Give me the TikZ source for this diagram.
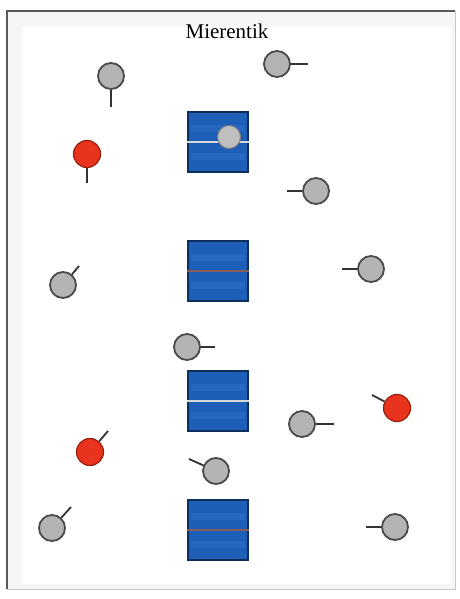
\documentclass[tikz,border=0pt]{standalone}
\usepackage{fontspec}
\setmainfont{Liberation Serif}
\definecolor{frameDark}{HTML}{5A5A5A}
\definecolor{frameLight}{HTML}{C8C8C8}
\definecolor{bandBg}{HTML}{F6F6F6}
\definecolor{ballGray}{HTML}{B4B4B4}
\definecolor{ballEdge}{HTML}{4A4A4A}
\definecolor{ballRed}{HTML}{E8341C}
\definecolor{redEdge}{HTML}{9A1E10}
\definecolor{boxBlue}{HTML}{1D5EB6}
\definecolor{boxBand}{HTML}{2668C0}
\definecolor{boxEdge}{HTML}{0E2E5E}
\definecolor{lineLight}{HTML}{D8D8D8}
\definecolor{lineBrown}{HTML}{8A5E5A}
\definecolor{stickCol}{HTML}{333333}
\tikzset{
  grayball/.style={circle,draw=ballEdge,line width=1.8pt,fill=ballGray,minimum size=26pt,inner sep=0pt},
  redball/.style={circle,draw=redEdge,line width=1.2pt,fill=ballRed,minimum size=27pt,inner sep=0pt},
  smallball/.style={circle,draw=ballEdge!70,line width=1pt,fill=ballGray!85,minimum size=23pt,inner sep=0pt},
  stick/.style={draw=stickCol,line width=1.8pt},
  boxnode/.style={rectangle,draw=boxEdge,line width=1.2pt,fill=boxBlue,minimum width=60pt,minimum height=60pt,inner sep=0pt},
  lightline/.style={draw=lineLight,line width=2.6pt},
  brownline/.style={draw=lineBrown,line width=1.6pt},
  bandline/.style={draw=boxBand,line width=7pt},
  titletext/.style={font=\fontsize{21}{24}\selectfont,text=black}
}
\begin{document}
\begin{tikzpicture}[x=1pt,y=-1pt]
\useasboundingbox (0,0) rectangle (459,599);
\fill[white] (0,0) rectangle (459,599);
% frame
\fill[bandBg] (7,11) rectangle (455,589);
\fill[white] (22,27) rectangle (451,584);
\draw[frameLight,line width=1pt] (455,11) -- (455,589) -- (7,589);
\draw[frameDark,line width=2pt] (7,589) -- (7,11) -- (455,11);
% title
\node[titletext] (title) at (227,31) {Mierentik};
% boxes
\foreach \n/\y in {q1/142,q2/271,q3/401,q4/530}{
  \node[boxnode] (\n) at (218,\y) {};
  \draw[bandline] ([xshift=4pt,yshift=14pt]\n.west) -- ([xshift=-4pt,yshift=14pt]\n.east);
  \draw[bandline] ([xshift=4pt,yshift=-14pt]\n.west) -- ([xshift=-4pt,yshift=-14pt]\n.east);
  \draw[boxEdge,line width=1.2pt] (\n.north west) rectangle (\n.south east);
}
\draw[lightline] (q1.west) -- (q1.east);
\draw[brownline] (q2.west) -- (q2.east);
\draw[lightline] (q3.west) -- (q3.east);
\draw[brownline] (q4.west) -- (q4.east);
\node[smallball] (qb) at (229,137) {};
% balls
\node[grayball] (g1) at (111,76) {};
\coordinate (g1t) at (111,107);
\node[grayball] (g2) at (277,64) {};
\coordinate (g2t) at (308,64);
\node[redball] (r1) at (87,154) {};
\coordinate (r1t) at (87,183);
\node[grayball] (g3) at (316,191) {};
\coordinate (g3t) at (287,191);
\node[grayball] (g4) at (371,269) {};
\coordinate (g4t) at (342,269);
\node[grayball] (g5) at (63,285) {};
\coordinate (g5t) at (79,266);
\node[grayball] (g6) at (187,347) {};
\coordinate (g6t) at (215,347);
\node[redball] (r2) at (397,408) {};
\coordinate (r2t) at (372,395);
\node[grayball] (g7) at (302,424) {};
\coordinate (g7t) at (334,424);
\node[redball] (r3) at (90,452) {};
\coordinate (r3t) at (108,431);
\node[grayball] (g8) at (216,471) {};
\coordinate (g8t) at (189,459);
\node[grayball] (g9) at (52,528) {};
\coordinate (g9t) at (71,507);
\node[grayball] (g10) at (395,527) {};
\coordinate (g10t) at (366,527);
\foreach \b in {g1,g2,r1,g3,g4,g5,g6,r2,g7,r3,g8,g9,g10}{
  \draw[stick] (\b) -- (\b t);
}
\end{tikzpicture}
\end{document}
